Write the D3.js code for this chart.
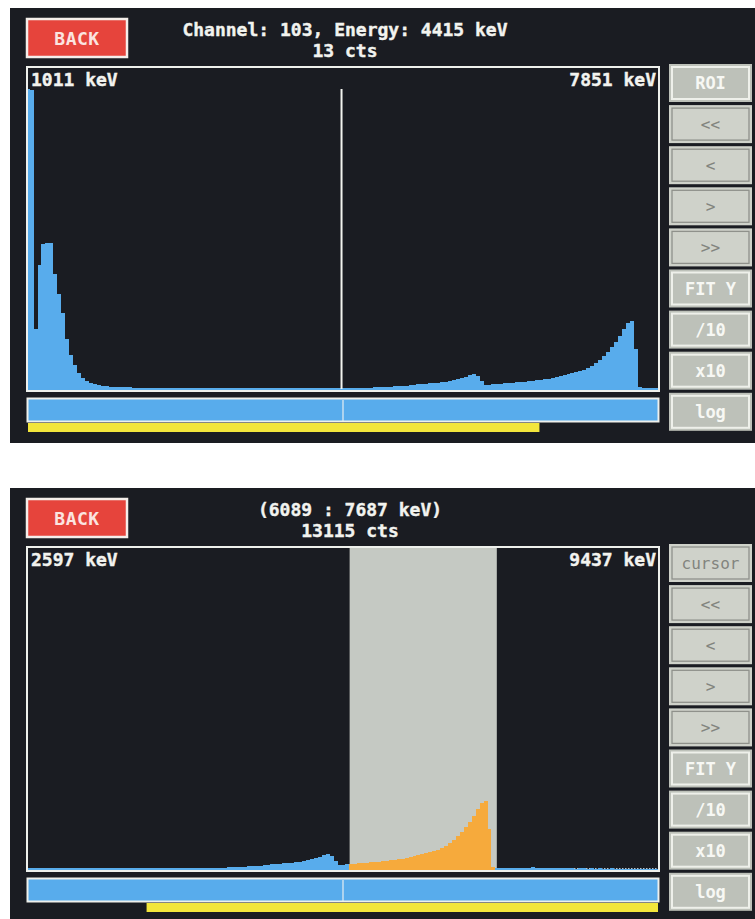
<!DOCTYPE html>
<html><head><meta charset="utf-8">
<script src="https://cdn.jsdelivr.net/npm/d3@7"></script>
<style>body{margin:0;background:#fff}svg{display:block}</style>
</head><body>
<script>
// ---- data ----
const keVPerChannel = 42.86;
const firstChannel = 23;
const counts = [
  5000, 4980, 1000, 2070, 2420, 2440, 2430, 1920, 1580, 1270,
  830, 570, 400, 270, 180, 130, 100, 80, 65, 50,
  42, 36, 33, 31, 29, 27, 26, 25, 24, 23,
  22, 22, 21, 20, 20, 19, 19, 18, 18, 17,
  17, 17, 16, 16, 16, 15, 15, 15, 15, 14,
  14, 14, 14, 14, 13, 13, 13, 13, 13, 13,
  13, 13, 12, 13, 12, 13, 12, 13, 13, 12,
  13, 13, 13, 14, 13, 14, 14, 14, 15, 14,
  13, 15, 16, 17, 18, 20, 22, 24, 27, 30,
  33, 36, 40, 44, 48, 50, 52, 65, 68, 80,
  85, 88, 100, 102, 105, 115, 120, 135, 150, 165,
  185, 200, 235, 250, 215, 135, 70, 68, 78,
  84, 88, 97, 101, 106, 114, 118, 122, 131, 137,
  148, 155, 164, 172, 185, 198, 214, 230, 247, 265,
  282, 300, 320, 350, 385, 432, 485, 550, 618, 700,
  785, 885, 1000, 1100, 1132, 665, 32, 18,
  14, 12, 11, 12, 10, 11, 10, 12, 38, 11,
  10, 9, 10, 9, 11, 10, 9, 10, 9, 8,
  9, 10, 8, 9, 8, 9, 8, 8, 9, 8,
  7, 8, 8, 7, 8, 7, 7, 8, 7, 7,
  7, 7
];
const titleLines = [["Channel: 103, Energy: 4415 keV", "13 cts"], ["(6089 : 7687 keV)", "13115 cts"]];
const windowStartKeV = [1011, 2597];
const windowEndKeV = [7851, 9437];
const overviewKeV = [1011, 9437];
const cursorKeV = 4415;
const roiKeV = [6089, 7687];
const buttonsTop = ["ROI", "<<", "<", ">", ">>", "FIT Y", "/10", "x10", "log"];
const buttonsBottom = ["cursor", "<<", "<", ">", ">>", "FIT Y", "/10", "x10", "log"];
const activeButtons = ["ROI", "FIT Y", "/10", "x10", "log"];
const yMaxCounts = 5000;

// ---- drawing ----
const W = 755, H = 919;
const svg = d3.select("body").append("svg").attr("width", W).attr("height", H);
const FONT = "'DejaVu Sans Mono', 'Liberation Mono', monospace";
const COL = {bg: "#1a1c22", blue: "#58acec", yellow: "#f3e63c", red: "#e6443c",
  roi: "#c5c9c3", orange: "#f6aa3c", white: "#f2f3ef"};

const bins = counts.map((c, i) => {
  const ch = firstChannel + i;
  return {ch, e0: ch * keVPerChannel, e1: (ch + 1) * keVPerChannel, c};
});

const defs = svg.append("defs");

function drawPanel(idx, offY) {
  const g = svg.append("g").attr("transform", `translate(0,${offY})`);
  const screenH = idx === 0 ? 435 : 431;
  g.append("rect").attr("x", 10).attr("y", 8).attr("width", 745).attr("height", screenH).attr("fill", COL.bg);

  // BACK button
  g.append("rect").attr("x", 27).attr("y", 19).attr("width", 100).attr("height", 38)
    .attr("fill", COL.red).attr("stroke", "#f4eeea").attr("stroke-width", 2.5);
  g.append("text").attr("x", 77).attr("y", 45).attr("text-anchor", "middle")
    .attr("font-family", FONT).attr("font-weight", "bold").attr("font-size", 18)
    .attr("letter-spacing", 0.5).attr("fill", "#fbe4e0").text("BACK");

  // title
  g.selectAll("text.title").data(titleLines[idx]).join("text").attr("class", "title")
    .attr("x", idx === 0 ? 345 : 350).attr("y", (d, i) => 36 + i * 21).attr("text-anchor", "middle")
    .attr("font-family", FONT).attr("font-weight", "bold").attr("font-size", 18)
    .attr("fill", COL.white).attr("stroke", COL.white).attr("stroke-width", 0.4).text(d => d);

  const x0 = 28, x1 = 658, yTop = 68, yBase = 389, yPlotTop = 89;
  const x = d3.scaleLinear().domain([windowStartKeV[idx], windowEndKeV[idx]]).range([x0, x1]);
  const y = d3.scaleLinear().domain([0, yMaxCounts]).range([yBase, yPlotTop]).clamp(true);

  const clipId = "clip" + idx;
  defs.append("clipPath").attr("id", clipId).append("rect")
    .attr("x", x0).attr("y", yTop).attr("width", x1 - x0).attr("height", 391 - yTop);

  const plot = g.append("g").attr("clip-path", `url(#${clipId})`);

  if (idx === 1) {
    plot.append("rect").attr("x", x(roiKeV[0])).attr("y", yTop)
      .attr("width", x(roiKeV[1]) - x(roiKeV[0])).attr("height", 391 - yTop).attr("fill", COL.roi);
  }
  // baseline texture
  plot.append("line").attr("x1", x0).attr("x2", x1).attr("y1", yBase).attr("y2", yBase)
    .attr("stroke", "#b9c6cf").attr("stroke-width", 2).attr("stroke-dasharray", "1.5,1.5");

  const inRoi = d => idx === 1 && (d.e0 + d.e1) / 2 >= roiKeV[0] && (d.e0 + d.e1) / 2 <= roiKeV[1];
  plot.selectAll("rect.bar").data(bins).join("rect").attr("class", "bar")
    .attr("shape-rendering", "crispEdges")
    .attr("x", d => x(d.e0)).attr("width", d => x(d.e1) - x(d.e0))
    .attr("y", d => y(d.c)).attr("height", d => yBase + 1 - y(d.c))
    .attr("fill", d => inRoi(d) ? COL.orange : COL.blue);

  if (idx === 0) {
    g.append("line").attr("x1", x(cursorKeV)).attr("x2", x(cursorKeV)).attr("y1", 89).attr("y2", 389)
      .attr("stroke", COL.white).attr("stroke-width", 2);
  }

  // frame
  g.append("rect").attr("x", 27).attr("y", 67).attr("width", 632).attr("height", 324)
    .attr("fill", "none").attr("stroke", "#eef0ec").attr("stroke-width", 2);

  // range labels
  g.append("text").attr("x", 31).attr("y", 86).attr("font-family", FONT).attr("font-weight", "bold")
    .attr("font-size", 18).attr("fill", COL.white).attr("stroke", COL.white).attr("stroke-width", 0.4)
    .text(`${windowStartKeV[idx]} keV`);
  g.append("text").attr("x", 656).attr("y", 86).attr("text-anchor", "end").attr("font-family", FONT)
    .attr("font-weight", "bold").attr("font-size", 18).attr("fill", COL.white).attr("stroke", COL.white)
    .attr("stroke-width", 0.4).text(`${windowEndKeV[idx]} keV`);

  // overview bar
  const ox = d3.scaleLinear().domain(overviewKeV).range([x0, x1]);
  g.append("rect").attr("x", 27.5).attr("y", 398.5).attr("width", 631).attr("height", 23)
    .attr("fill", COL.blue).attr("stroke", "#eef0ec").attr("stroke-width", 2);
  g.append("line").attr("x1", (x0 + x1) / 2).attr("x2", (x0 + x1) / 2).attr("y1", 400).attr("y2", 421)
    .attr("stroke", "#e8eef2").attr("stroke-width", 1.2);
  g.append("rect").attr("x", ox(windowStartKeV[idx])).attr("y", 423)
    .attr("width", ox(windowEndKeV[idx]) - ox(windowStartKeV[idx])).attr("height", 9).attr("fill", COL.yellow);

  // buttons
  const labels = idx === 0 ? buttonsTop : buttonsBottom;
  const bg = g.selectAll("g.btn").data(labels).join("g").attr("class", "btn")
    .attr("transform", (d, i) => `translate(669,${64 + i * 41.1})`);
  bg.append("rect").attr("width", 83).attr("height", 38)
    .attr("fill", d => activeButtons.includes(d) ? "#bdc1b9" : "#cfd2ca");
  bg.append("rect").attr("x", 3).attr("y", 3).attr("width", 77).attr("height", 32).attr("fill", "none")
    .attr("stroke", d => activeButtons.includes(d) ? "#eef0ea" : "#8f918b")
    .attr("stroke-width", d => activeButtons.includes(d) ? 2 : 1.3);
  bg.append("text").attr("x", 41.5).attr("y", 25).attr("text-anchor", "middle").attr("font-family", FONT)
    .attr("font-weight", d => activeButtons.includes(d) ? "bold" : "normal")
    .attr("font-size", d => activeButtons.includes(d) ? 17 : 16)
    .attr("fill", d => activeButtons.includes(d) ? "#f7f8f4" : "#82847e").text(d => d);
}

drawPanel(0, 0);
drawPanel(1, 480);
</script>
</body></html>
